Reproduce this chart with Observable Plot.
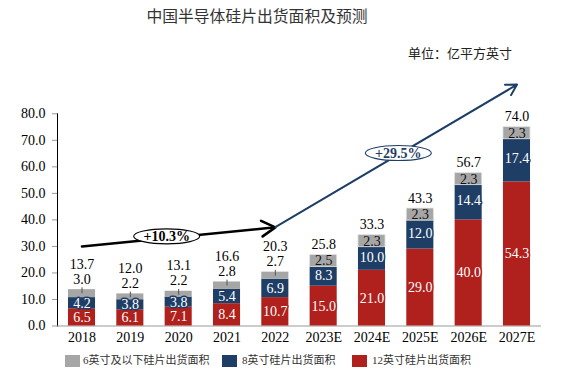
<!DOCTYPE html>
<html><head><meta charset="utf-8">
<script src="https://cdn.jsdelivr.net/npm/d3@7"></script>
<script src="https://cdn.jsdelivr.net/npm/@observablehq/plot@0.6"></script>
<style>
body{margin:0;background:#fff;}
#wrap{position:relative;width:565px;height:374px;overflow:hidden;font-family:"Liberation Serif","Noto Sans CJK SC",serif;}
#title{position:absolute;left:0;width:514px;top:6px;text-align:center;font-size:15.8px;line-height:20px;color:#333;font-family:"Noto Sans CJK SC",sans-serif;}
#unit{position:absolute;right:53px;top:44px;font-size:13px;line-height:18px;color:#222;font-family:"Noto Sans CJK SC",sans-serif;white-space:nowrap;}
#chart{position:absolute;left:0;top:0;}
.lg-sw{position:absolute;width:15px;height:12px;top:355px;}
.lg-tx{position:absolute;top:352px;font-size:11px;line-height:17px;color:#333;white-space:nowrap;font-family:"Liberation Serif","Noto Sans CJK SC",serif;}
svg g[aria-label^="y-axis"] line, svg g[aria-label^="y-axis"] path{stroke:#999;}
</style>
</head><body>
<div id="wrap">
  <div id="title">中国半导体硅片出货面积及预测</div>
  <div id="unit">单位：亿平方英寸</div>
  <div id="chart"></div>
  <div id="legend"></div>
</div>
<script>
const years = ["2018","2019","2020","2021","2022","2023E","2024E","2025E","2026E","2027E"];
const wafer12 = [6.5,6.1,7.1,8.4,10.7,15.0,21.0,29.0,40.0,54.3];
const wafer8  = [4.2,3.8,3.8,5.4,6.9,8.3,10.0,12.0,14.4,17.4];
const wafer6  = [3.0,2.2,2.2,2.8,2.7,2.5,2.3,2.3,2.3,2.3];
const totals  = [13.7,12.0,13.1,16.6,20.3,25.8,33.3,43.3,56.7,74.0];
const forecastFlags = [false,false,false,false,false,true,true,true,true,true];
const seriesNames = ["6英寸及以下硅片出货面积","8英寸硅片出货面积","12英寸硅片出货面积"];
const seriesColors = ["#a6a6a6","#1f3e66","#b0201c"];
const histTrend = [{x1:"2018", y1:30.0, x2:"2022", y2:37.2}];
const foreTrend = [{x1:"2022", y1:37.3, x2:"2027E", y2:91.0}];
const histGrowth = [{x:"2020", y:33.8, text:"+10.3%"}];
const foreGrowth = [{x:"2025E", y:65.2, text:"+29.5%"}];

const rows = years.map((year,i)=>({
  year, a12:wafer12[i], a8:wafer8[i], a6:wafer6[i], total:totals[i],
  base8:wafer12[i], top8:wafer12[i]+wafer8[i], top:wafer12[i]+wafer8[i]+wafer6[i],
  forecast:forecastFlags[i]
}));
const hist = rows.filter(d=>!d.forecast);
const fore = rows.filter(d=>d.forecast);

const k = 0.5523;
const ellipse = {draw(ctx){const rx=33, ry=7.5;
  ctx.moveTo(rx,0);
  ctx.bezierCurveTo(rx,ry*k,rx*k,ry,0,ry);
  ctx.bezierCurveTo(-rx*k,ry,-rx,ry*k,-rx,0);
  ctx.bezierCurveTo(-rx,-ry*k,-rx*k,-ry,0,-ry);
  ctx.bezierCurveTo(rx*k,-ry,rx,-ry*k,rx,0);
  ctx.closePath();}};

const [cGray,cNavy,cRed] = seriesColors;
const chart = Plot.plot({
  width:565, height:374,
  marginLeft:57, marginRight:24, marginTop:113.3, marginBottom:48.5,
  style:{fontFamily:'"Liberation Serif", serif', fontSize:"14px", color:"#000", background:"transparent", overflow:"visible"},
  x:{domain:years, paddingInner:0.44, paddingOuter:0.227, round:false, tickSize:0, tickPadding:6, label:null},
  y:{domain:[0,80], ticks:8, tickFormat:d=>d.toFixed(1), tickSize:5, tickPadding:7, line:true, label:null},
  marks:[
    Plot.ruleY([0],{stroke:"#999"}),
    Plot.barY(rows,{x:"year", y1:0, y2:"a12", fill:cRed}),
    Plot.barY(rows,{x:"year", y1:"base8", y2:"top8", fill:cNavy}),
    Plot.barY(rows,{x:"year", y1:"top8", y2:"top", fill:cGray}),
    Plot.barY(fore,{x:"year", y1:d=>d.top-3.6, y2:d=>d.top+1.0, fill:cGray, stroke:"#e6e6e6", strokeWidth:0.8}),
    Plot.text(rows,{x:"year", y:d=>d.a12/2, text:d=>d.a12.toFixed(1), fill:"white", stroke:cRed, strokeWidth:3}),
    Plot.text(rows,{x:"year", y:d=>d.base8+d.a8/2, text:d=>d.a8.toFixed(1), fill:"white", stroke:cNavy, strokeWidth:3}),
    Plot.ruleX(hist,{x:"year", y1:d=>d.top-1.5, y2:d=>d.top+0.7, stroke:"#555", strokeWidth:1}),
    Plot.text(hist,{x:"year", y:"top", dy:-10.5, text:d=>d.a6.toFixed(1), fill:"#000"}),
    Plot.text(hist,{x:"year", y:"top", dy:-25.5, text:d=>d.total.toFixed(1), fill:"#000"}),
    Plot.text(fore,{x:"year", y:d=>d.top-1.3, text:d=>d.a6.toFixed(1), fill:"#111"}),
    Plot.text(fore,{x:"year", y:"top", dy:-13, text:d=>d.total.toFixed(1), fill:"#000"}),
    Plot.arrow(histTrend,{x1:"x1", y1:"y1", x2:"x2", y2:"y2", stroke:"#000", strokeWidth:2.6, headLength:9}),
    Plot.arrow(foreTrend,{x1:"x1", y1:"y1", x2:"x2", y2:"y2", stroke:cNavy, strokeWidth:2, headLength:9}),
    Plot.dot(histGrowth,{x:"x", y:"y", dx:-12, symbol:ellipse, fill:"white", stroke:"#000", strokeWidth:1.1}),
    Plot.text(histGrowth,{x:"x", y:"y", dx:-12, text:"text", fill:"#000", fontWeight:"bold", fontSize:14}),
    Plot.dot(foreGrowth,{x:"x", y:"y", dx:-22, symbol:ellipse, fill:"white", stroke:cNavy, strokeWidth:1.1}),
    Plot.text(foreGrowth,{x:"x", y:"y", dx:-22, text:"text", fill:cNavy, fontWeight:"bold", fontSize:14})
  ]
});
document.getElementById("chart").appendChild(chart);

const lgPos = [{sw:65, tx:83},{sw:222, tx:242},{sw:352, tx:372}];
const legend = document.getElementById("legend");
seriesNames.forEach((name,i)=>{
  const sw = document.createElement("div");
  sw.className = "lg-sw"; sw.style.left = lgPos[i].sw+"px"; sw.style.background = seriesColors[i];
  const tx = document.createElement("div");
  tx.className = "lg-tx"; tx.style.left = lgPos[i].tx+"px"; tx.textContent = name;
  legend.appendChild(sw); legend.appendChild(tx);
});
</script>
</body></html>
